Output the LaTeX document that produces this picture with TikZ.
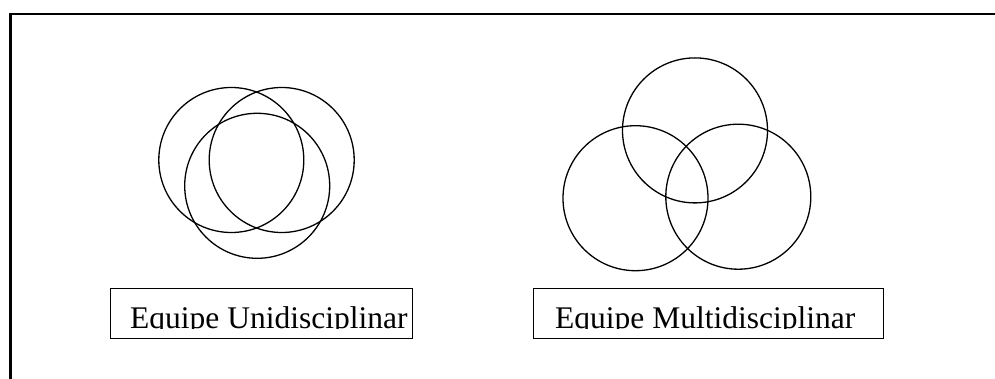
\documentclass[tikz,border=0pt]{standalone}
\usepackage{fontspec}
\setmainfont{Liberation Serif}
\begin{document}
\begin{tikzpicture}[x=1pt,y=-1pt,
  ring/.style={draw=black,line width=1.3pt,circle,minimum size=145pt,inner sep=0pt},
  label/.style={draw=black,line width=1pt,fill=white},
  frameline/.style={draw=black,line width=2.2pt},
  lbl/.style={anchor=base west,inner sep=0pt,font=\fontsize{31.5}{31.5}\selectfont}]
\useasboundingbox (0,0) rectangle (995,379);
% outer frame (open at right and bottom)
\coordinate (fbl) at (10.5,379);
\coordinate (ftl) at (10.5,14);
\coordinate (ftr) at (995,14);
\draw[frameline] (fbl) -- (ftl) -- (ftr);
% unidisciplinary team circles
\node[ring] (ua) at (231.3,160) {};
\node[ring] (ub) at (281.7,160) {};
\node[ring] (uc) at (257.2,185.8) {};
% multidisciplinary team circles
\node[ring] (mt) at (695,130.4) {};
\node[ring] (ml) at (635.5,198.2) {};
\node[ring] (mr) at (738.3,196.7) {};
% label boxes
\draw[label] (110,288) rectangle (412,338);
\draw[label] (533,288) rectangle (883,338);
\begin{scope}
\clip (110,288) rectangle (412,328);
\node[lbl] (ut) at (130,328) {Equipe Unidisciplinar};
\end{scope}
\begin{scope}
\clip (533,288) rectangle (883,328);
\node[lbl] (mtx) at (555,328) {Equipe Multidisciplinar};
\end{scope}
\end{tikzpicture}
\end{document}
